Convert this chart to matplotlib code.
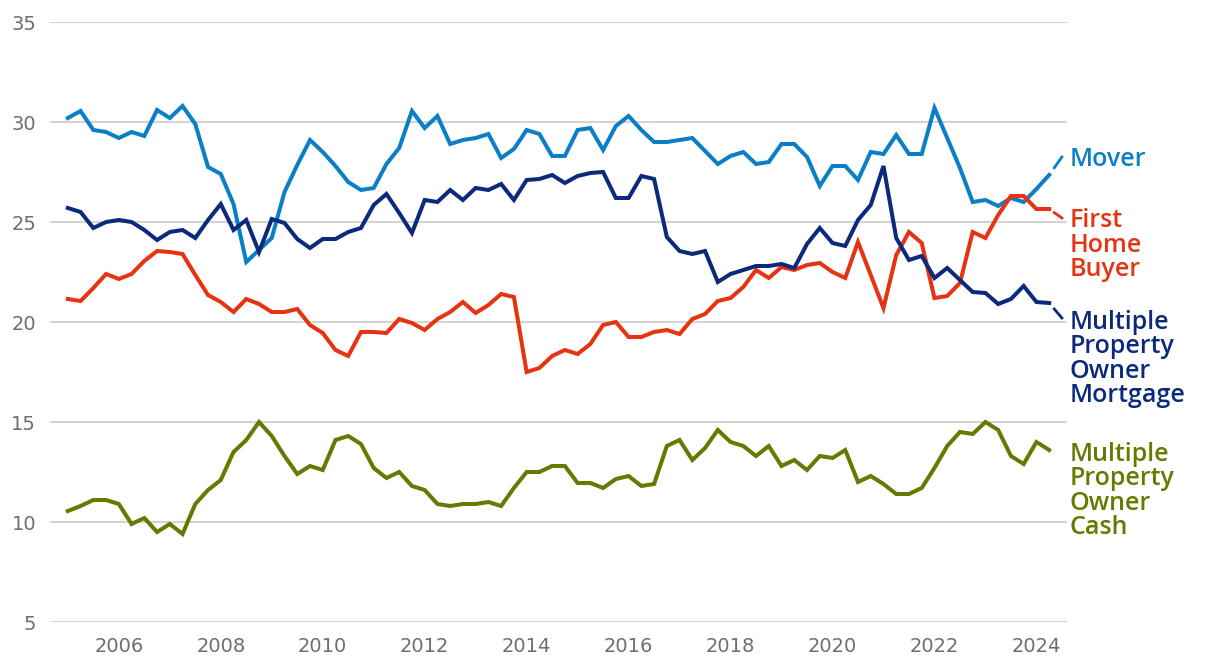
import matplotlib.pyplot as plt
import numpy as np

# quarterly, 2005 Q1 .. 2024 Q2
years = 2005 + np.arange(78) / 4

mover = [30.2, 30.55, 29.6, 29.5, 29.2, 29.5, 29.3, 30.6, 30.2, 30.8,
         29.9, 27.75, 27.4, 25.9, 23.0, 23.6, 24.2, 26.5, 27.85, 29.1,
         28.5, 27.8, 27.0, 26.6, 26.7, 27.9, 28.7, 30.55, 29.7, 30.3,
         28.9, 29.1, 29.2, 29.4, 28.2, 28.65, 29.6, 29.4, 28.3, 28.3,
         29.6, 29.7, 28.6, 29.8, 30.3, 29.6, 29.0, 29.0, 29.1, 29.2,
         28.55, 27.9, 28.3, 28.5, 27.9, 28.0, 28.9, 28.9, 28.25, 26.8,
         27.8, 27.8, 27.1, 28.5, 28.4, 29.35, 28.4, 28.4, 30.7, 29.2,
         27.7, 26.0, 26.1, 25.8, 26.2, 26.0, 26.65, 27.35]

first_home = [21.15, 21.05, 21.7, 22.4, 22.15, 22.4, 23.05, 23.55, 23.5, 23.4,
              22.35, 21.35, 21.0, 20.5, 21.15, 20.9, 20.5, 20.5, 20.65, 19.85,
              19.45, 18.6, 18.3, 19.5, 19.5, 19.45, 20.15, 19.95, 19.6, 20.15,
              20.5, 21.0, 20.45, 20.85, 21.4, 21.25, 17.5, 17.7, 18.3, 18.6,
              18.4, 18.9, 19.85, 20.0, 19.25, 19.25, 19.5, 19.6, 19.4, 20.15,
              20.4, 21.05, 21.2, 21.75, 22.6, 22.2, 22.75, 22.6, 22.85, 22.95,
              22.5, 22.2, 24.0, 22.35, 20.7, 23.35, 24.5, 23.95, 21.2, 21.3,
              21.95, 24.5, 24.2, 25.35, 26.3, 26.3, 25.65, 25.65]

mpo_mortgage = [25.7, 25.5, 24.7, 25.0, 25.1, 25.0, 24.6, 24.1, 24.5, 24.6,
                24.2, 25.1, 25.9, 24.6, 25.1, 23.5, 25.15, 24.95, 24.15, 23.7,
                24.15, 24.15, 24.5, 24.7, 25.85, 26.4, 25.45, 24.45, 26.1, 26.0,
                26.6, 26.1, 26.7, 26.6, 26.9, 26.1, 27.1, 27.15, 27.35, 26.95,
                27.3, 27.45, 27.5, 26.2, 26.2, 27.3, 27.15, 24.25, 23.55, 23.4,
                23.55, 22.0, 22.4, 22.6, 22.8, 22.8, 22.9, 22.7, 23.9, 24.7,
                23.95, 23.8, 25.1, 25.85, 27.8, 24.2, 23.1, 23.3, 22.2, 22.7,
                22.1, 21.5, 21.45, 20.9, 21.15, 21.8, 21.0, 20.95]

mpo_cash = [10.55, 10.8, 11.1, 11.1, 10.9, 9.9, 10.2, 9.5, 9.9, 9.4,
            10.9, 11.6, 12.1, 13.5, 14.1, 15.0, 14.3, 13.3, 12.4, 12.8,
            12.6, 14.1, 14.3, 13.9, 12.7, 12.2, 12.5, 11.8, 11.6, 10.9,
            10.8, 10.9, 10.9, 11.0, 10.8, 11.7, 12.5, 12.5, 12.8, 12.8,
            11.95, 11.95, 11.7, 12.15, 12.3, 11.8, 11.9, 13.8, 14.1, 13.1,
            13.7, 14.6, 14.0, 13.8, 13.3, 13.8, 12.8, 13.1, 12.6, 13.3,
            13.2, 13.6, 12.0, 12.3, 11.9, 11.4, 11.4, 11.7, 12.7, 13.8,
            14.5, 14.4, 15.0, 14.6, 13.3, 12.9, 14.0, 13.6]

names = ["Mover", "First\nHome\nBuyer", "Multiple\nProperty\nOwner\nMortgage",
         "Multiple\nProperty\nOwner\nCash"]
series = [mover, first_home, mpo_mortgage, mpo_cash]
colors = ["#0a7fc8", "#e63312", "#0b2a7c", "#687800"]
# baseline of the last label line, and where the leader line ends
label_base = [27.8, 22.3, 16.0, 9.4]
leader_end = [28.25, 25.2, 20.2, None]

fig = plt.figure(figsize=(12.2, 6.68), dpi=100)
ax = fig.add_axes([50/1220, 46/668, 1017/1220, 600/668])

for y, c in zip(series, colors):
    ax.plot(years, y, color=c, lw=2.9, solid_joinstyle="miter", clip_on=False, zorder=3)

x_last = years[-1]
x_end = 2024.5
for y, c, name, lb, le in zip(series, colors, names, label_base, leader_end):
    if le is not None:
        x0 = x_last + 0.4 * (x_end - x_last)
        y0 = y[-1] + 0.4 * (le - y[-1])
        ax.plot([x0, x_end], [y0, le], color=c, lw=2, clip_on=False)
    ax.text(2024.65, lb, name, color=c, fontsize=18, fontweight="semibold",
            family=["Open Sans", "DejaVu Sans"], va="baseline", ha="left",
            linespacing=0.97)

ax.set_xlim(2004.65, 2024.6)
ax.set_ylim(5, 35)
ax.set_yticks(range(5, 36, 5))
ax.set_xticks(range(2006, 2025, 2))
ax.grid(axis="y", color="#d4d4d4", lw=1.5)
ax.set_axisbelow(True)
for s in ax.spines.values():
    s.set_visible(False)
ax.tick_params(length=0, labelsize=14, colors="#6e6e6e")
ax.tick_params(axis="x", pad=11)
ax.tick_params(axis="y", pad=10)

fig.savefig("out.png", dpi=100)
